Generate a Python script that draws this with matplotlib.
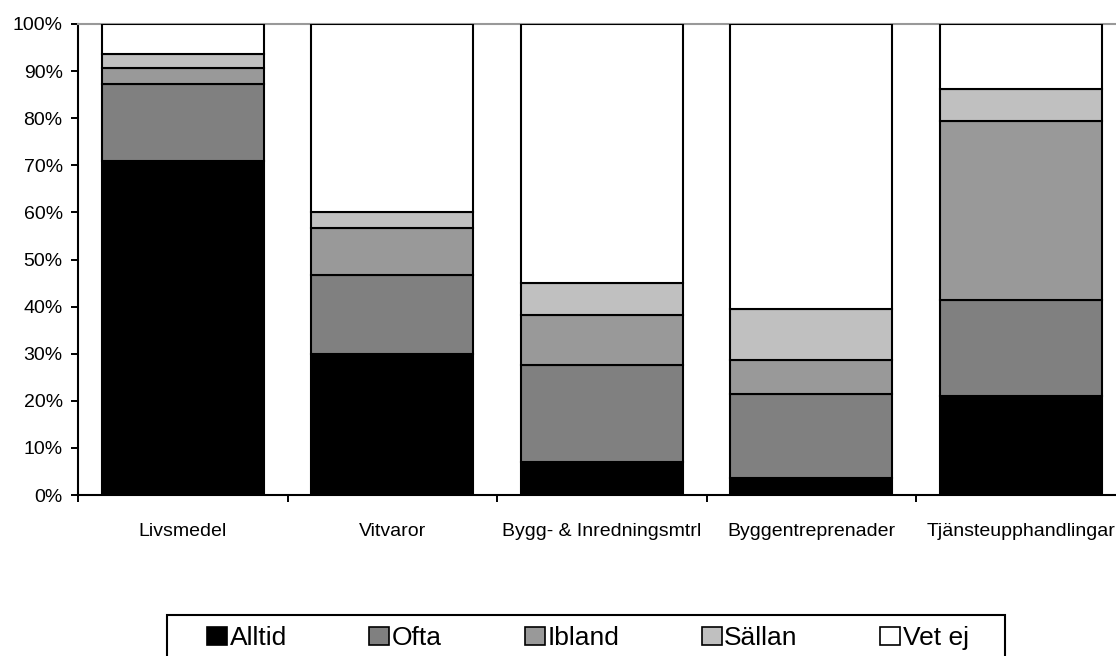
import numpy as np
import matplotlib.pyplot as plt
from matplotlib import font_manager
from matplotlib.patches import Rectangle

plt.rcParams['font.family'] = ['Liberation Sans', 'DejaVu Sans']

# Data (percent)
categories = ['Livsmedel', 'Vitvaror', 'Bygg- & Inredningsmtrl',
              'Byggentreprenader', 'Tjänsteupphandlingar']
alltid = [71.0, 30.0, 7.0, 3.7, 21.0]
ofta = [16.2, 16.8, 20.6, 17.7, 20.5]
ibland = [3.4, 9.9, 10.6, 7.3, 38.0]
sallan = [3.0, 3.3, 6.8, 10.8, 6.8]
vet_ej = [6.4, 40.0, 55.0, 60.5, 13.7]

series = [('Alltid', alltid, '#000000'),
          ('Ofta', ofta, '#808080'),
          ('Ibland', ibland, '#999999'),
          ('Sällan', sallan, '#c0c0c0'),
          ('Vet ej', vet_ej, '#ffffff')]

# category labels use a narrow face if there is one
names = {f.name for f in font_manager.fontManager.ttflist}
if 'Liberation Sans Narrow' in names:
    cat_font = dict(family=['Liberation Sans Narrow', 'DejaVu Sans'], size=17.8)
else:
    cat_font = dict(family=['Liberation Sans', 'DejaVu Sans'], size=14)

W, H = 1116, 656
fig = plt.figure(figsize=(W / 100, H / 100), dpi=100)
ax = fig.add_axes([78 / W, 161 / H, 1047.5 / W, 471 / H])

x = np.arange(len(categories))
bottom = np.zeros(len(categories))
for name, vals, col in series:
    ax.bar(x, vals, width=0.773, bottom=bottom, color=col,
           edgecolor='black', linewidth=1.5, label=name, zorder=3)
    bottom += np.array(vals)

ax.set_xlim(-0.5, len(categories) - 0.5)
ax.set_ylim(0, 100)

# y axis
ax.set_yticks(np.arange(0, 101, 10))
ax.set_yticklabels([f'{v}%' for v in range(0, 101, 10)], fontsize=14)
ax.tick_params(axis='y', direction='out', length=5, width=1.4, pad=6)

# x axis: labels at centres, ticks at boundaries
ax.set_xticks(x)
ax.set_xticklabels(categories, **cat_font)
ax.set_xticks(np.arange(-0.5, len(categories), 1.0), minor=True)
ax.tick_params(axis='x', which='major', length=0, pad=20)
ax.tick_params(axis='x', which='minor', direction='out', length=5, width=1.4)

ax.spines['right'].set_visible(False)
ax.spines['top'].set_color('#999999')
ax.spines['top'].set_linewidth(1.5)
ax.spines['left'].set_linewidth(1.5)
ax.spines['bottom'].set_linewidth(1.5)

# legend with a box drawn around it
leg = fig.legend(loc='center left',
                 bbox_to_anchor=(207 / W, 18 / H, 762 / W, 0),
                 mode='expand', ncol=5, frameon=False, fontsize=19,
                 handlelength=0.76, handleheight=0.7, handletextpad=0.1,
                 borderpad=0, borderaxespad=0)
for h in leg.legend_handles:
    h.set_linewidth(1.2)
fig.patches.append(Rectangle((167 / W, -0.02), 838 / W, (41 / H) + 0.02,
                             transform=fig.transFigure, fill=False,
                             edgecolor='black', linewidth=1.5))

fig.savefig('out.png', dpi=100)
